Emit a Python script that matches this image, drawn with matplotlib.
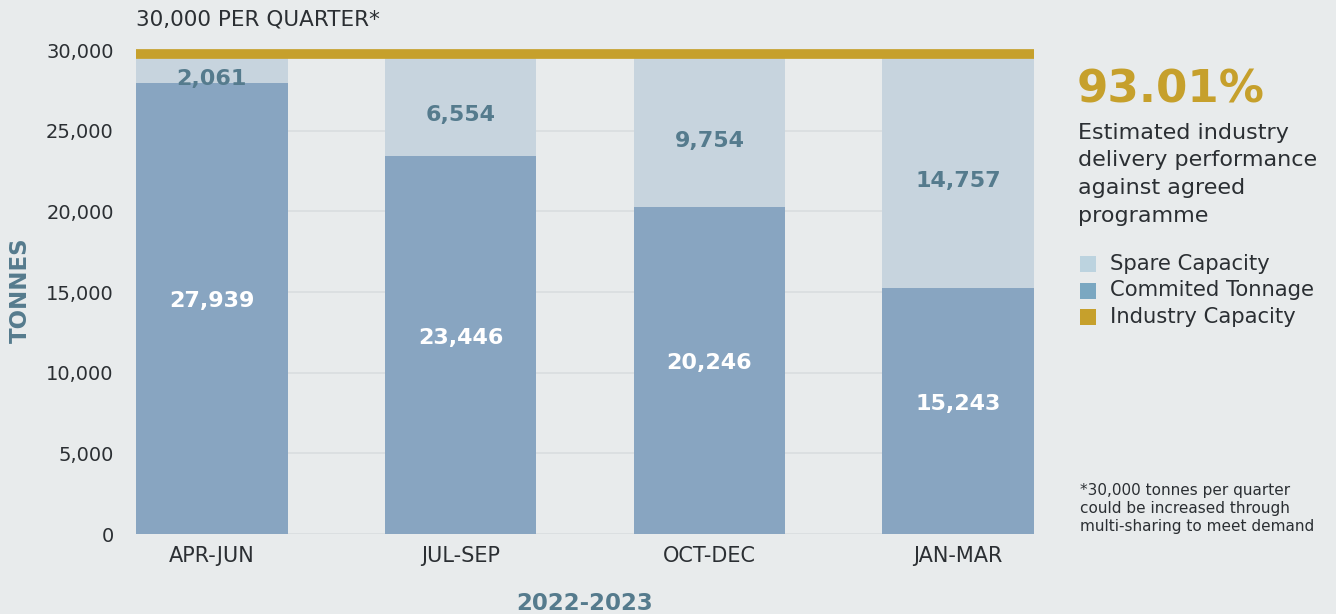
import matplotlib.pyplot as plt
from matplotlib.patches import Rectangle

quarters = ["APR-JUN", "JUL-SEP", "OCT-DEC", "JAN-MAR"]
committed = [27939, 23446, 20246, 15243]
spare = [2061, 6554, 9754, 14757]
capacity = 30000
yticks = [0, 5000, 10000, 15000, 20000, 25000, 30000]

BG = "#e8ebec"
C_COMMIT = "#88a5c1"
C_SPARE = "#c7d4de"
C_GOLD = "#c6a02c"
C_LABEL = "#557b8d"
C_TEXT = "#2b2f33"

plt.rcParams['font.family'] = ['DejaVu Sans']

fig = plt.figure(figsize=(13.36, 6.14), dpi=100, facecolor=BG)
ax = fig.add_axes([136/1336, 1-534/614, 898/1336, 484/614])
ax.set_facecolor(BG)

x = list(range(len(quarters)))
w = 0.61
ax.bar(x, committed, width=w, color=C_COMMIT, zorder=2)
ax.bar(x, spare, width=w, bottom=committed, color=C_SPARE, zorder=2)
ax.axhline(capacity - 250, color=C_GOLD, lw=7, zorder=3, clip_on=False, solid_capstyle='butt')

for i in x:
    ax.text(i, committed[i] / 2 + 450, f"{committed[i]:,}", ha='center', va='center',
            color='white', fontsize=16, fontweight='bold', zorder=4)
    ax.text(i, committed[i] + spare[i] / 2 - 750, f"{spare[i]:,}", ha='center', va='center',
            color=C_LABEL, fontsize=16, fontweight='bold', zorder=4)

ax.set_xlim(-0.305, 3.305)
ax.set_ylim(0, 30000)
ax.set_yticks(yticks)
ax.set_yticklabels([f"{v:,}" for v in yticks], fontsize=14, color=C_TEXT)
ax.set_xticks(x)
ax.set_xticklabels(quarters, fontsize=15, color=C_TEXT)
ax.tick_params(length=0)
ax.tick_params(axis='x', pad=9)
ax.tick_params(axis='y', pad=16)
ax.grid(axis='y', color='#d9dddf', lw=1.2, zorder=1)
for s in ax.spines.values():
    s.set_visible(False)

fig.text(20/1336, 1-290/614, "TONNES", rotation=90, fontsize=16.5, fontweight='bold',
         color=C_LABEL, va='center', ha='center')
fig.text(585/1336, 1-603/614, "2022-2023", fontsize=16.5, fontweight='bold',
         color=C_LABEL, va='center', ha='center')

fig.text(136/1336, 1-20/614, "30,000 PER QUARTER*", fontsize=15.5, color=C_TEXT, va='center', ha='left')

fig.text(1077/1336, 1-90/614, "93.01%", fontsize=32.5, fontweight='bold', color=C_GOLD, va='center', ha='left')
desc = ["Estimated industry", "delivery performance", "against agreed", "programme"]
for k, line in enumerate(desc):
    fig.text(1078/1336, 1-(133 + k*27.5)/614, line, fontsize=16, color=C_TEXT, va='center', ha='left')

legend_items = [("Spare Capacity", "#bcd3df"), ("Commited Tonnage", "#7aa7c1"), ("Industry Capacity", C_GOLD)]
for k, (lab, col) in enumerate(legend_items):
    yc = 1 - (264 + k * 26.5) / 614
    fig.patches.append(Rectangle((1080/1336, yc - 8/614), 16/1336, 16/614, transform=fig.transFigure,
                                 facecolor=col, edgecolor='none'))
    fig.text(1110/1336, yc, lab, fontsize=15.2, color=C_TEXT, va='center', ha='left')

notes = ["*30,000 tonnes per quarter", "could be increased through", "multi-sharing to meet demand"]
for k, line in enumerate(notes):
    fig.text(1080/1336, 1-(490 + k*18)/614, line, fontsize=11, color=C_TEXT, va='center', ha='left')

fig.savefig("out.png", dpi=100, facecolor=BG)
